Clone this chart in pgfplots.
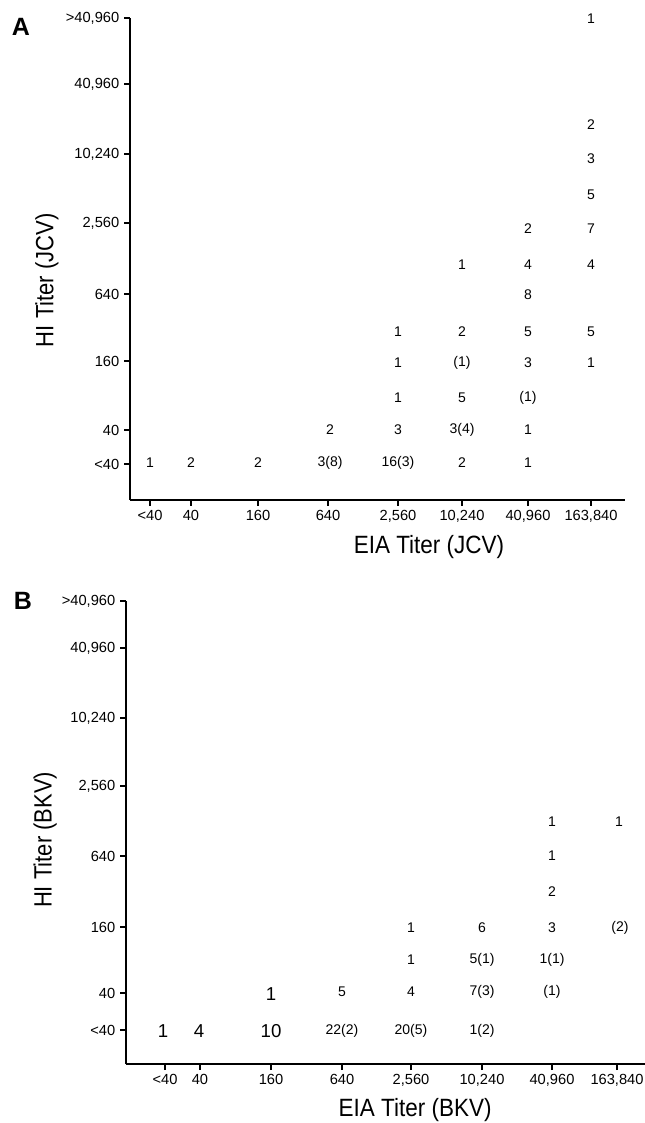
\documentclass[border=0pt]{standalone}
\usepackage{fontspec}
\setmainfont{Liberation Sans}
\usepackage{graphicx}
\usepackage{pgfplots}
\usepackage{pgfplotstable}
\pgfplotsset{compat=1.18}

% Panel A (JCV): x = EIA column position, y = HI row position, label = count
\pgfplotstableread{
x y label
150 660 1
191 660 2
258 660 2
330 660 3(8)
398 660 16(3)
462 660 2
528 660 1
330 693 2
398 693 3
462 693 3(4)
528 693 1
398 725 1
462 725 5
528 725 (1)
398 760 1
462 760 (1)
528 760 3
591 760 1
398 791 1
462 791 2
528 791 5
591 791 5
528 828 8
462 858 1
528 858 4
591 858 4
528 894 2
591 894 7
591 928 5
591 964 3
591 998 2
591 1104 1
}\jcv

% Panel B (BKV)
\pgfplotstableread{
x y label
342 92 22(2)
411 92 20(5)
482 92 1(2)
342 131 5
411 131 4
482 131 7(3)
552 131 (1)
411 163 1
482 163 5(1)
552 163 1(1)
411 195 1
482 195 6
552 195 3
620 195 (2)
552 231 2
552 267 1
552 301 1
619 301 1
}\bkv

\pgfplotstableread{
x y label
163 92 1
199 92 4
271 92 10
271 129 1
}\bkvbig

\pgfplotsset{
  titerax/.style={
    x=0.75pt, y=0.75pt, anchor=south west, scale only axis,
    axis x line*=bottom, axis y line*=left,
    axis line style={-, line width=1.4pt, black},
    tick align=outside, major tick length=4.5pt,
    tick style={black, line width=1pt},
    tick label style={font=\fontsize{11}{13}\selectfont},
    label style={font=\fontsize{18.75}{20}\selectfont},
    clip=false,
  },
  lbl/.style={black, only marks, mark=none, nodes near coords,
    point meta=explicit symbolic, nodes near coords align=center,
    every node near coord/.append style={font=\fontsize{10.5}{12}\selectfont, inner sep=0pt, text=black}},
  lblbig/.style={lbl, every node near coord/.append style={font=\fontsize{14}{16}\selectfont}},
}

\begin{document}
\begin{tikzpicture}[x=0.75pt,y=0.75pt]
\path[use as bounding box] (0,0) rectangle (645,1123);

\begin{axis}[titerax,
  at={(130,623)},
  xmin=130, xmax=625, ymin=623, ymax=1105,
  xtick={150,191,258,328,398,462,528,591},
  xticklabels={{<40},{40},{160},{640},{2,560},{10,240},{40,960},{163,840}},
  ytick={659,693,762,829,900,969,1039,1105},
  yticklabels={{<40},{40},{160},{640},{2,560},{10,240},{40,960},{>40,960}},
  xlabel={\scalebox{0.9}[1]{EIA Titer (JCV)}},
  ylabel={\scalebox{0.88}[1]{HI Titer (JCV)}},
  xlabel style={at={(axis description cs:0.604,-0.0975)}, anchor=center},
  ylabel style={at={(axis description cs:-0.1677,0.456)}, anchor=center},
]
\addplot[lbl] table[x=x, y=y, meta=label] {\jcv};
\end{axis}

\begin{axis}[titerax,
  at={(126,59)},
  xmin=126, xmax=645, ymin=59, ymax=522,
  xtick={165,200,271,342,411,482,552,617},
  xticklabels={{<40},{40},{160},{640},{2,560},{10,240},{40,960},{163,840}},
  ytick={93,130,196,267,337,405,475,522},
  yticklabels={{<40},{40},{160},{640},{2,560},{10,240},{40,960},{>40,960}},
  xlabel={\scalebox{0.9}[1]{EIA Titer (BKV)}},
  ylabel={\scalebox{0.88}[1]{HI Titer (BKV)}},
  xlabel style={at={(axis description cs:0.557,-0.0994)}, anchor=center},
  ylabel style={at={(axis description cs:-0.156,0.484)}, anchor=center},
]
\addplot[lbl] table[x=x, y=y, meta=label] {\bkv};
\addplot[lblbig] table[x=x, y=y, meta=label] {\bkvbig};
\end{axis}

\node[font=\bfseries\fontsize{18.75}{20}\selectfont, anchor=center] at (21,1096) {A};
\node[font=\bfseries\fontsize{18.75}{20}\selectfont, anchor=center] at (23,522) {B};
\end{tikzpicture}
\end{document}
